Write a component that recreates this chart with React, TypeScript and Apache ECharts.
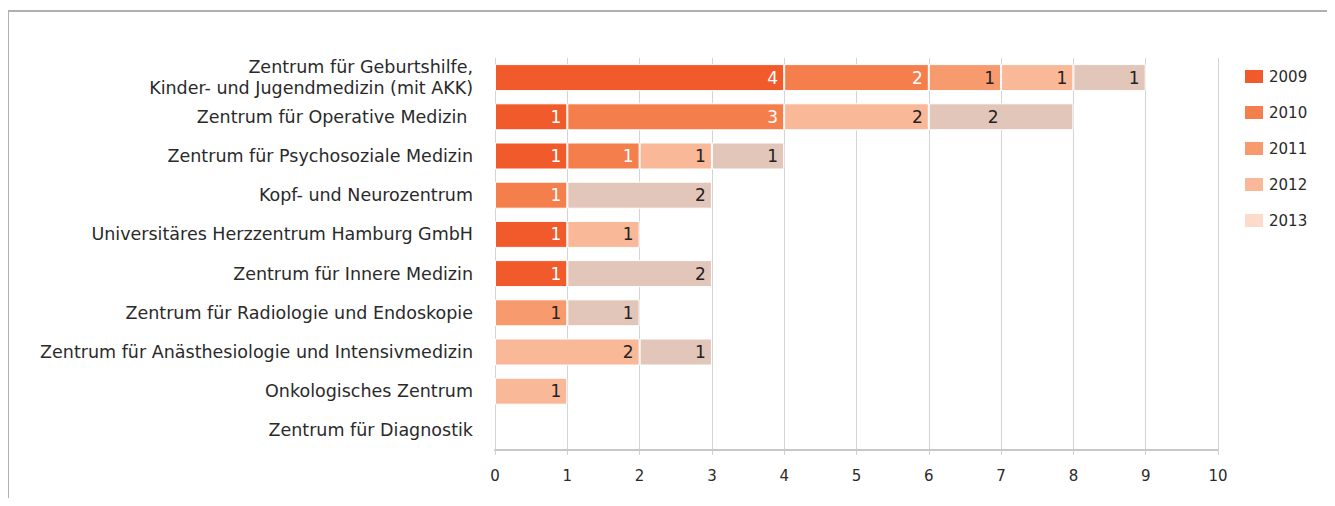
import React, { useEffect, useRef } from "react";
import * as echarts from "echarts";

const categories = [
  "Zentrum für Geburtshilfe,\nKinder- und Jugendmedizin (mit AKK)",
  "Zentrum für Operative Medizin ",
  "Zentrum für Psychosoziale Medizin",
  "Kopf- und Neurozentrum",
  "Universitäres Herzzentrum Hamburg GmbH",
  "Zentrum für Innere Medizin",
  "Zentrum für Radiologie und Endoskopie",
  "Zentrum für Anästhesiologie und Intensivmedizin",
  "Onkologisches Zentrum",
  "Zentrum für Diagnostik",
];

const years = ["2009", "2010", "2011", "2012", "2013"];

const v2009 = [4, 1, 1, 0, 1, 1, 0, 0, 0, 0];
const v2010 = [2, 3, 1, 1, 0, 0, 0, 0, 0, 0];
const v2011 = [1, 0, 0, 0, 0, 0, 1, 0, 0, 0];
const v2012 = [1, 2, 1, 0, 1, 0, 0, 2, 1, 0];
const v2013 = [1, 2, 1, 2, 0, 2, 1, 1, 0, 0];

const seriesValues = [v2009, v2010, v2011, v2012, v2013];
const barColors = ["#F15A2B", "#F47E4C", "#F79B6E", "#F9B898", "#E2C6BA"];
const legendColors = ["#F15A2B", "#F47E4C", "#F79B6E", "#F9B898", "#FDDBCA"];
const labelColors = ["#ffffff", "#ffffff", "#222222", "#222222", "#222222"];
// [seriesIndex, categoryIndex] of labels that sit centred in their segment
const centredLabels = [[4, 1]];

const xTicks = [0, 1, 2, 3, 4, 5, 6, 7, 8, 9, 10];

const FONT = "'DejaVu Sans', sans-serif";

export default function App() {
  const ref = useRef<HTMLDivElement>(null);
  useEffect(() => {
    if (!ref.current) return;
    const chart = echarts.init(ref.current, undefined, { renderer: "svg" });
    chart.setOption({
      animation: false,
      textStyle: { fontFamily: FONT },
      grid: { left: 495, right: 117, top: 58, bottom: 56, containLabel: false },
      legend: {
        orient: "vertical",
        left: 1238,
        top: 63,
        itemWidth: 20,
        itemHeight: 15,
        itemGap: 19,
        icon: "rect",
        textStyle: { fontSize: 15, lineHeight: 16, color: "#2a2a2a", fontFamily: FONT },
        data: years.map((y, i) => ({ name: y, itemStyle: { color: legendColors[i] } })),
      },
      xAxis: {
        type: "value",
        min: xTicks[0],
        max: xTicks[xTicks.length - 1],
        interval: 1,
        axisLine: { show: true, lineStyle: { color: "#c8c8c8", width: 2 } },
        axisTick: { show: true, length: 5, lineStyle: { color: "#d0d0d0" } },
        axisLabel: { fontSize: 15, color: "#2a2a2a", margin: 18, fontFamily: FONT },
        splitLine: { show: true, lineStyle: { color: "#d4d4d4", width: 1 } },
      },
      yAxis: {
        type: "category",
        inverse: true,
        data: categories,
        axisLine: { show: false },
        axisTick: { show: false },
        axisLabel: {
          fontSize: 17.5,
          color: "#2a2a2a",
          margin: 22,
          lineHeight: 21,
          fontFamily: FONT,
        },
      },
      series: seriesValues.map((vals, i) => ({
        name: years[i],
        type: "bar",
        stack: "total",
        barWidth: 27,
        itemStyle: { color: barColors[i], borderColor: "#ffffff", borderWidth: 1 },
        label: {
          show: true,
          position: "insideRight",
          color: labelColors[i],
          fontSize: 17,
          fontFamily: FONT,
          distance: 6,
          formatter: (p: any) => (p.value ? String(p.value) : ""),
        },
        data: vals.map((v, j) => {
          if (v === 0) return null;
          const centred = centredLabels.some(([s, c]) => s === i && c === j);
          return centred ? { value: v, label: { position: "inside", offset: [-8, 0] } } : v;
        }),
      })),
    });
    return () => chart.dispose();
  }, []);

  return (
    <div style={{ position: "relative", width: 1335, height: 506, margin: -8, overflow: "hidden", background: "#fff" }}>
      <div
        style={{
          position: "absolute",
          left: 8,
          top: 10,
          width: 1318,
          height: 520,
          borderTop: "2px solid #b0b0b0",
          borderLeft: "1px solid #b0b0b0",
          borderRight: "1px solid #b0b0b0",
        }}
      />
      <div ref={ref} style={{ position: "absolute", left: 0, top: 0, width: 1335, height: 506 }} />
    </div>
  );
}
